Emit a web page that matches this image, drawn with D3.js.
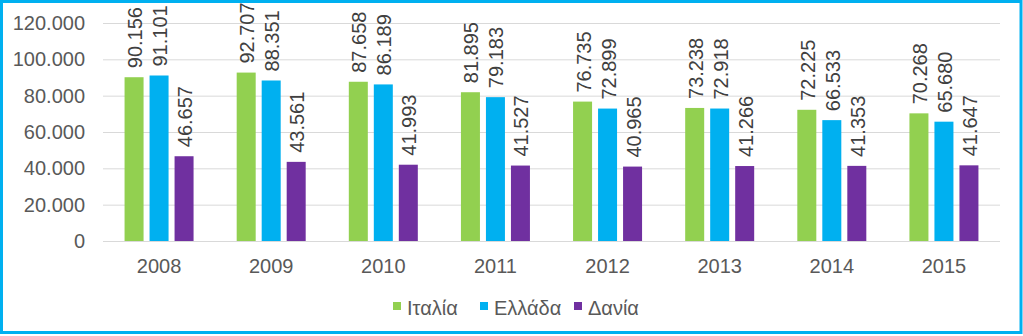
<!DOCTYPE html>
<html><head><meta charset="utf-8">
<script src="https://cdn.jsdelivr.net/npm/d3@7"></script>
<style>body{margin:0;background:#fff}svg{display:block;font-family:"Liberation Sans",Arial,sans-serif}</style>
</head><body>
<svg id="c" width="1023" height="336"></svg>
<script>
const years = ["2008","2009","2010","2011","2012","2013","2014","2015"];
const seriesNames = ["Ιταλία","Ελλάδα","Δανία"];
const italia = [90156, 92707, 87658, 81895, 76735, 73238, 72225, 70268];
const ellada = [91101, 88351, 86189, 79183, 72899, 72918, 66533, 65680];
const dania  = [46657, 43561, 41993, 41527, 40965, 41266, 41353, 41647];
const colors = ["#92D050","#00B0F0","#7030A0"];
const yTicks = [0,20000,40000,60000,80000,100000,120000];

(function(){
const values = [italia, ellada, dania];
const loc = d3.formatLocale({decimal:",", thousands:".", grouping:[3], currency:["","€"]});
const fmt = loc.format(",d");
const svg = d3.select("#c");
const textColor = "#595959";
const fs = 20;

svg.append("rect").attr("x",1.5).attr("y",1.5).attr("width",1019.5).attr("height",331)
  .attr("fill","#fff").attr("stroke","#00B0F0").attr("stroke-width",3);

const pLeft = 103, pRight = 1000, pTop = 23, pBottom = 241;
const x0 = d3.scaleBand().domain(years).range([pLeft,pRight]).padding(0);
const groupW = 69;
const x1 = d3.scaleBand().domain(seriesNames).range([0,groupW]).paddingInner(0.24).paddingOuter(0);
const y = d3.scaleLinear().domain([0,120000]).range([pBottom,pTop]);

const grid = svg.append("g");
grid.selectAll("line").data(yTicks).join("line")
  .attr("x1",pLeft).attr("x2",pRight)
  .attr("y1",d=>y(d)+0.5).attr("y2",d=>y(d)+0.5)
  .attr("stroke","#d9d9d9").attr("stroke-width",1);

const yAxis = d3.axisLeft(y).tickValues(yTicks).tickFormat(d=>fmt(d)).tickSize(0).tickPadding(0);
const ya = svg.append("g").attr("transform",`translate(85,0)`).call(yAxis);
ya.select(".domain").remove();
ya.selectAll("text").attr("font-size",fs).attr("fill",textColor).attr("font-family","Liberation Sans, Arial, sans-serif");

const xAxis = d3.axisBottom(x0).tickSize(0).tickPadding(0);
const xa = svg.append("g").attr("transform",`translate(0,${pBottom})`).call(xAxis);
xa.select(".domain").remove();
xa.selectAll("text").attr("font-size",fs).attr("fill",textColor).attr("dy",null).attr("y",32)
  .attr("font-family","Liberation Sans, Arial, sans-serif");

const groups = svg.append("g").selectAll("g").data(years).join("g")
  .attr("transform",d=>`translate(${x0(d)+(x0.bandwidth()-groupW)/2},0)`);

seriesNames.forEach((s,si)=>{
  groups.append("rect")
    .attr("x",x1(s)).attr("width",x1.bandwidth())
    .attr("y",(d,i)=>y(values[si][i])).attr("height",(d,i)=>y(0)-y(values[si][i]))
    .attr("fill",colors[si]);
  groups.append("text")
    .attr("transform",(d,i)=>`translate(${x1(s)+x1.bandwidth()/2+1},${y(values[si][i])-9}) rotate(-90)`)
    .attr("dy","0.35em").attr("text-anchor","start")
    .attr("font-size",fs).attr("fill","#404040")
    .text((d,i)=>fmt(values[si][i]));
});

const legendX = [393, 480, 574];
const lg = svg.append("g");
seriesNames.forEach((s,si)=>{
  lg.append("rect").attr("x",legendX[si]).attr("y",302).attr("width",8).attr("height",8).attr("fill",colors[si]);
  lg.append("text").attr("x",legendX[si]+14).attr("y",308).attr("dy","0.35em")
    .attr("font-size",fs).attr("fill",textColor).text(s);
});
})();
</script>
</body></html>
